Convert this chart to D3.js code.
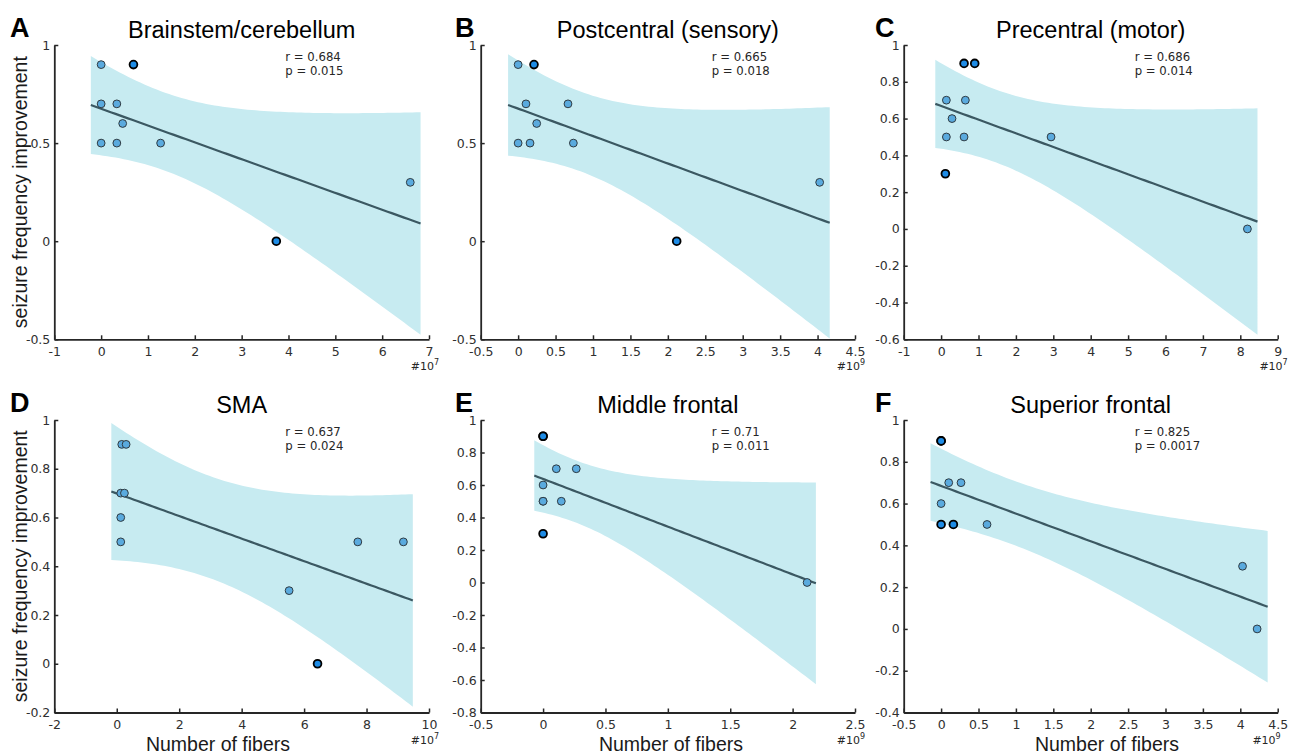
<!DOCTYPE html>
<html>
<head>
<meta charset="utf-8">
<script src="https://d3js.org/d3.v7.min.js"></script>
<style>
    body { margin: 0; background: #fff; }
    #chart-area svg { display: block; }
</style>
</head>
<body>
<div id="chart-area"></div>
<script>

// Panel info
var panelLetters = ["A", "B", "C", "D", "E", "F"];
var panelTitles = ["Brainstem/cerebellum", "Postcentral (sensory)", "Precentral (motor)",
    "SMA", "Middle frontal", "Superior frontal"];
var rLabels = ["0.684", "0.665", "0.686", "0.637", "0.71", "0.825"];
var pLabels = ["0.015", "0.018", "0.014", "0.024", "0.011", "0.0017"];
var xExponents = ["7", "9", "7", "7", "9", "9"];

// Axis ticks
var xTicksA = [-1, 0, 1, 2, 3, 4, 5, 6, 7];
var xTicksB = [-0.5, 0, 0.5, 1, 1.5, 2, 2.5, 3, 3.5, 4, 4.5];
var xTicksC = [-1, 0, 1, 2, 3, 4, 5, 6, 7, 8, 9];
var xTicksD = [-2, 0, 2, 4, 6, 8, 10];
var xTicksE = [-0.5, 0, 0.5, 1, 1.5, 2, 2.5];
var xTicksF = [-0.5, 0, 0.5, 1, 1.5, 2, 2.5, 3, 3.5, 4, 4.5];
var yTicksA = [-0.5, 0, 0.5, 1];
var yTicksB = [-0.5, 0, 0.5, 1];
var yTicksC = [-0.6, -0.4, -0.2, 0, 0.2, 0.4, 0.6, 0.8, 1];
var yTicksD = [-0.2, 0, 0.2, 0.4, 0.6, 0.8, 1];
var yTicksE = [-0.8, -0.6, -0.4, -0.2, 0, 0.2, 0.4, 0.6, 0.8, 1];
var yTicksF = [-0.4, -0.2, 0, 0.2, 0.4, 0.6, 0.8, 1];

// seizure frequency improvement (same 10 patients in every panel)
var improvement = [0.9, 0.9, 0.7, 0.7, 0.6, 0.5, 0.5, 0.5, 0.3, 0];

// number of fibers per panel (x 10^7 or x 10^9) and dark-outlined markers
var fibersA = [0, 0.69, 0, 0.335, 0.46, 0, 0.335, 1.27, 6.6, 3.74];
var fibersB = [0, 0.212, 0.105, 0.666, 0.248, 0, 0.159, 0.738, 4.028, 2.118];
var fibersC = [0.614, 0.899, 0.141, 0.649, 0.292, 0.141, 0.614, 2.94, 0.114, 8.19];
var fibersD = [0.16, 0.30, 0.128, 0.246, 0.128, 0.128, 7.72, 9.18, 5.52, 6.43];
var fibersE = [0, 0, 0.106, 0.266, 0, 0, 0, 0.146, 0, 2.116];
var fibersF = [0, 0, 0.102, 0.266, 0, 0, 0.164, 0.614, 4.03, 4.225];
var darkA = [0, 1, 0, 0, 0, 0, 0, 0, 0, 1];
var darkB = [0, 1, 0, 0, 0, 0, 0, 0, 0, 1];
var darkC = [1, 1, 0, 0, 0, 0, 0, 0, 1, 0];
var darkD = [0, 0, 0, 0, 0, 0, 0, 0, 0, 1];
var darkE = [1, 1, 0, 0, 0, 0, 0, 0, 1, 0];
var darkF = [1, 1, 0, 0, 0, 1, 1, 0, 0, 0];

var fibers = [fibersA, fibersB, fibersC, fibersD, fibersE, fibersF];
var dark = [darkA, darkB, darkC, darkD, darkE, darkF];
var xTicks = [xTicksA, xTicksB, xTicksC, xTicksD, xTicksE, xTicksF];
var yTicks = [yTicksA, yTicksB, yTicksC, yTicksD, yTicksE, yTicksF];

// F(0.95; 2, n-2) with n = 10, for the simultaneous confidence band
var fCrit = 4.459;


ScatterFit = function(_svg, _index){
    this.svg = _svg;
    this.index = _index;

    this.initVis();
}

ScatterFit.prototype.initVis = function(){
    var vis = this;

    var colLeft = [54.3, 480.7, 903.7],
        colRight = [429, 855, 1277.7],
        rowTop = [45, 420],
        rowBottom = [339.3, 712.5];

    vis.col = vis.index % 3;
    vis.row = Math.floor(vis.index / 3);
    vis.left = colLeft[vis.col];
    vis.right = colRight[vis.col];
    vis.top = rowTop[vis.row];
    vis.bottom = rowBottom[vis.row];

    vis.g = vis.svg.append("g").attr("class", "panel");

    vis.x = d3.scaleLinear()
        .domain(d3.extent(xTicks[vis.index]))
        .range([vis.left, vis.right]);

    vis.y = d3.scaleLinear()
        .domain(d3.extent(yTicks[vis.index]))
        .range([vis.bottom, vis.top]);

    vis.wrangleData();
};


/** Linear fit + confidence band */

ScatterFit.prototype.wrangleData = function(){
    var vis = this;

    vis.points = fibers[vis.index].map(function(d, i){
        return { x: d, y: improvement[i], dark: dark[vis.index][i] };
    });

    var n = vis.points.length;
    var mx = d3.mean(vis.points, function(d){ return d.x; });
    var my = d3.mean(vis.points, function(d){ return d.y; });
    var sxx = d3.sum(vis.points, function(d){ return (d.x - mx) * (d.x - mx); });
    var sxy = d3.sum(vis.points, function(d){ return (d.x - mx) * (d.y - my); });
    var slope = sxy / sxx;
    var intercept = my - slope * mx;
    var sse = d3.sum(vis.points, function(d){
        var e = d.y - (intercept + slope * d.x);
        return e * e;
    });
    var s = Math.sqrt(sse / (n - 2));
    var crit = Math.sqrt(2 * fCrit);

    var lo = d3.min(vis.points, function(d){ return d.x; });
    var hi = d3.max(vis.points, function(d){ return d.x; });
    var pad = (hi - lo) / 30;
    var x0 = lo - pad, x1 = hi + pad;

    vis.band = d3.range(0, 81).map(function(i){
        var xv = x0 + (x1 - x0) * i / 80;
        var fit = intercept + slope * xv;
        var half = crit * s * Math.sqrt(1 / n + (xv - mx) * (xv - mx) / sxx);
        return { x: xv, fit: fit, lo: fit - half, hi: fit + half };
    });

    vis.updateVis();
};


ScatterFit.prototype.updateVis = function(){
    var vis = this;
    var i = vis.index;

    // band
    var area = d3.area()
        .x(function(d){ return vis.x(d.x); })
        .y0(function(d){ return vis.y(d.lo); })
        .y1(function(d){ return vis.y(d.hi); });

    vis.g.append("path")
        .datum(vis.band)
        .attr("fill", "#c7ebf1")
        .attr("d", area);

    // fit line
    var line = d3.line()
        .x(function(d){ return vis.x(d.x); })
        .y(function(d){ return vis.y(d.fit); });

    vis.g.append("path")
        .datum(vis.band)
        .attr("fill", "none")
        .attr("stroke", "#3b5862")
        .attr("stroke-width", 2.2)
        .attr("d", line);

    // axes
    var fmt = function(d){ return String(+d.toFixed(2)); };

    vis.g.append("g")
        .attr("class", "axis")
        .attr("transform", "translate(0," + vis.bottom + ")")
        .call(d3.axisBottom(vis.x).tickValues(xTicks[i]).tickSize(-4).tickSizeOuter(0)
            .tickPadding(8).tickFormat(fmt));

    vis.g.append("g")
        .attr("class", "axis")
        .attr("transform", "translate(" + vis.left + ",0)")
        .call(d3.axisLeft(vis.y).tickValues(yTicks[i]).tickSize(-4).tickSizeOuter(0)
            .tickPadding(4).tickFormat(fmt));

    vis.g.selectAll(".axis path.domain")
        .attr("stroke", "#262626")
        .attr("stroke-width", 1.8);
    vis.g.selectAll(".axis .tick line")
        .attr("stroke", "#262626")
        .attr("stroke-width", 1.5);
    vis.g.selectAll(".axis text")
        .attr("fill", "#303030")
        .style("font-family", "'DejaVu Sans', Verdana, sans-serif")
        .style("font-size", "12.5px");

    // points
    vis.g.selectAll("circle.pt")
        .data(vis.points)
        .enter()
        .append("circle")
        .attr("class", "pt")
        .attr("cx", function(d){ return vis.x(d.x); })
        .attr("cy", function(d){ return vis.y(d.y); })
        .attr("r", 3.9)
        .attr("fill", function(d){ return d.dark ? "#1e8ce6" : "#5aaade"; })
        .attr("stroke", function(d){ return d.dark ? "#000" : "#2f3b42"; })
        .attr("stroke-width", function(d){ return d.dark ? 1.8 : 1; });

    // panel letter
    var letterX = [10, 455, 875], letterY = [37, 411.5];
    vis.g.append("text")
        .attr("x", letterX[vis.col])
        .attr("y", letterY[vis.row])
        .style("font-family", "'Liberation Sans', Arial, sans-serif")
        .style("font-weight", "bold")
        .style("font-size", "27px")
        .text(panelLetters[i]);

    // title
    var titleY = [37.7, 413];
    vis.g.append("text")
        .attr("x", (vis.left + vis.right) / 2)
        .attr("y", titleY[vis.row])
        .attr("text-anchor", "middle")
        .style("font-family", "'Liberation Sans', Arial, sans-serif")
        .style("font-size", "23.5px")
        .text(panelTitles[i]);

    // stats
    var stats = vis.g.append("g")
        .style("font-family", "'DejaVu Sans', Verdana, sans-serif")
        .style("font-size", "11.7px")
        .attr("fill", "#262626");
    stats.append("text")
        .attr("x", vis.left + 231)
        .attr("y", vis.top + 16)
        .text("r = " + rLabels[i]);
    stats.append("text")
        .attr("x", vis.left + 231)
        .attr("y", vis.top + 30)
        .text("p = " + pLabels[i]);

    // exponent
    var expo = vis.g.append("text")
        .attr("x", vis.right + (i == 5 ? 3 : 10))
        .attr("y", vis.bottom + 31)
        .attr("text-anchor", "end")
        .attr("fill", "#262626")
        .style("font-family", "'DejaVu Sans', Verdana, sans-serif")
        .style("font-size", "11px");
    expo.append("tspan").text("#10");
    expo.append("tspan")
        .attr("dy", -5)
        .style("font-size", "8px")
        .text(xExponents[i]);

    // axis titles
    if (vis.col == 0) {
        vis.g.append("text")
            .attr("transform", "translate(27," + ((vis.top + vis.bottom) / 2) + ") rotate(-90)")
            .attr("text-anchor", "middle")
            .attr("fill", "#1a1a1a")
            .style("font-family", "'Liberation Sans', Arial, sans-serif")
            .style("font-size", "19.5px")
            .text("seizure frequency improvement");
    }
    if (vis.row == 1) {
        var xLabelX = [218, 671, 1107];
        vis.g.append("text")
            .attr("x", xLabelX[vis.col])
            .attr("y", 751)
            .attr("text-anchor", "middle")
            .attr("fill", "#1a1a1a")
            .style("font-family", "'Liberation Sans', Arial, sans-serif")
            .style("font-size", "19.5px")
            .text("Number of fibers");
    }
};


var svg = d3.select("#chart-area").append("svg")
    .attr("width", 1298)
    .attr("height", 756);

svg.append("rect")
    .attr("width", 1298)
    .attr("height", 756)
    .attr("fill", "#fff");

var panels = panelLetters.map(function(d, i){
    return new ScatterFit(svg, i);
});

</script>
</body>
</html>
